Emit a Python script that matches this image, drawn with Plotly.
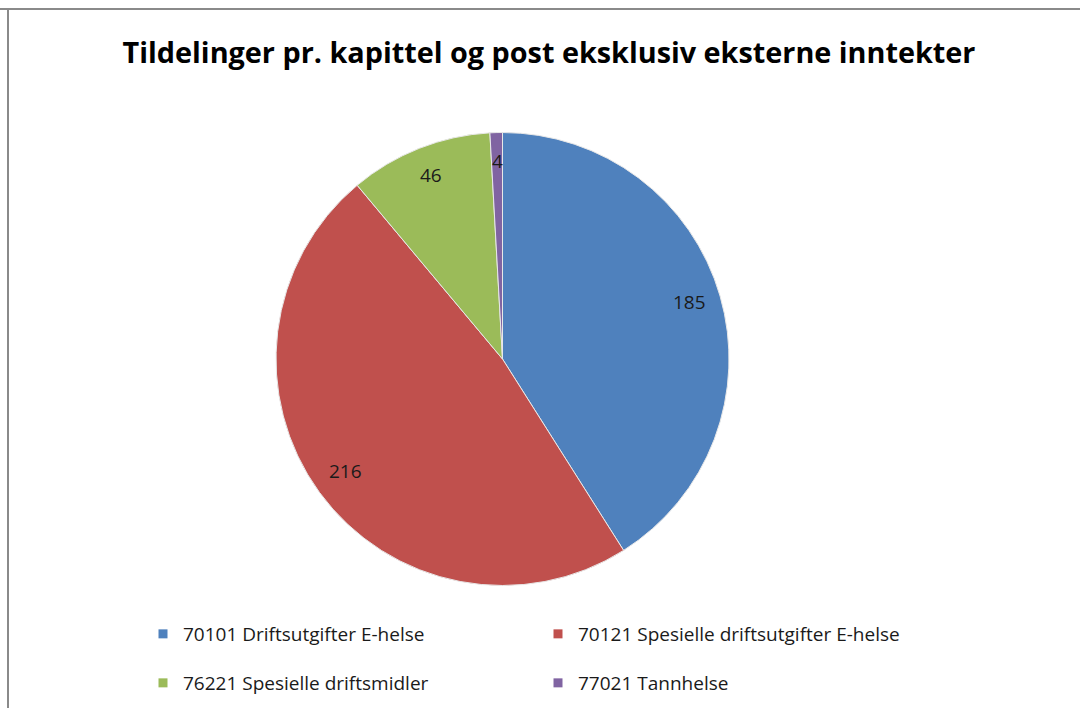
import math
import plotly.graph_objects as go

# ---- data ----
categories = [
    "70101 Driftsutgifter E-helse",
    "70121 Spesielle driftsutgifter E-helse",
    "76221 Spesielle driftsmidler",
    "77021 Tannhelse",
]
values = [185, 216, 46, 4]
colors = ["#4F81BD", "#C0504D", "#9BBB59", "#8064A2"]
title_text = "Tildelinger pr. kapittel og post eksklusiv eksterne inntekter"

# ---- layout geometry (pixels) ----
W, H = 1080, 708
cx, cy, R = 502.5, 359.0, 226.5
label_r = 0.86

fig = go.Figure()
fig.add_trace(go.Pie(
    labels=categories,
    values=values,
    sort=False,
    direction="clockwise",
    rotation=0,
    marker=dict(colors=colors, line=dict(color="#e8e8e8", width=1)),
    textinfo="none",
    hoverinfo="label+value",
    showlegend=False,
    domain=dict(x=[(cx - R) / W, (cx + R) / W], y=[(H - cy - R) / H, (H - cy + R) / H]),
))

# data labels placed on each slice's mid-angle
total = sum(values)
cum = 0.0
annotations = []
for v in values:
    theta = math.radians((cum + v / 2) / total * 360.0)
    cum += v
    px = cx + label_r * R * math.sin(theta)
    py = cy - label_r * R * math.cos(theta)
    annotations.append(dict(
        x=px / W, y=1 - py / H, xref="paper", yref="paper",
        text=str(v), showarrow=False, yshift=3,
        font=dict(family="Open Sans", size=19, color="#1a1a1a"),
        xanchor="center", yanchor="middle",
    ))

# legend entries (two rows, two columns)
for i, (cat, col) in enumerate(zip(categories, colors)):
    fig.add_trace(go.Scatter(
        x=[-100], y=[-100], mode="markers",
        marker=dict(symbol="square", size=9, color=col),
        name=cat, showlegend=True, hoverinfo="skip",
        legend="legend" if i < 2 else "legend2",
    ))

legend_common = dict(
    orientation="h", xanchor="left", yanchor="middle",
    entrywidth=350, entrywidthmode="pixels",
    font=dict(family="Open Sans", size=19, color="#1a1a1a"),
    bgcolor="rgba(0,0,0,0)", itemclick=False, itemdoubleclick=False,
)

fig.update_layout(
    width=W, height=H,
    margin=dict(l=0, r=0, t=0, b=0),
    paper_bgcolor="white", plot_bgcolor="white",
    title=dict(
        text=title_text, x=549 / W, xanchor="center",
        y=1 - 53 / H, yanchor="middle", yref="container",
        font=dict(family="Open Sans", size=28.8, color="black", weight="bold"),
    ),
    xaxis=dict(visible=False, range=[0, 1]),
    yaxis=dict(visible=False, range=[0, 1]),
    legend=dict(x=143 / W, y=1 - 634 / H, **legend_common),
    legend2=dict(x=143 / W, y=1 - 683 / H, **legend_common),
    annotations=annotations,
    shapes=[
        dict(type="line", xref="paper", yref="paper", x0=0, x1=1,
             y0=1 - 9 / H, y1=1 - 9 / H, line=dict(color="#8a8a8a", width=2)),
        dict(type="line", xref="paper", yref="paper", x0=8 / W, x1=8 / W,
             y0=0, y1=1 - 9 / H, line=dict(color="#8a8a8a", width=2)),
    ],
)

fig.write_html("out.html", config={"displayModeBar": False},
               post_script="document.body.style.margin='0';")
